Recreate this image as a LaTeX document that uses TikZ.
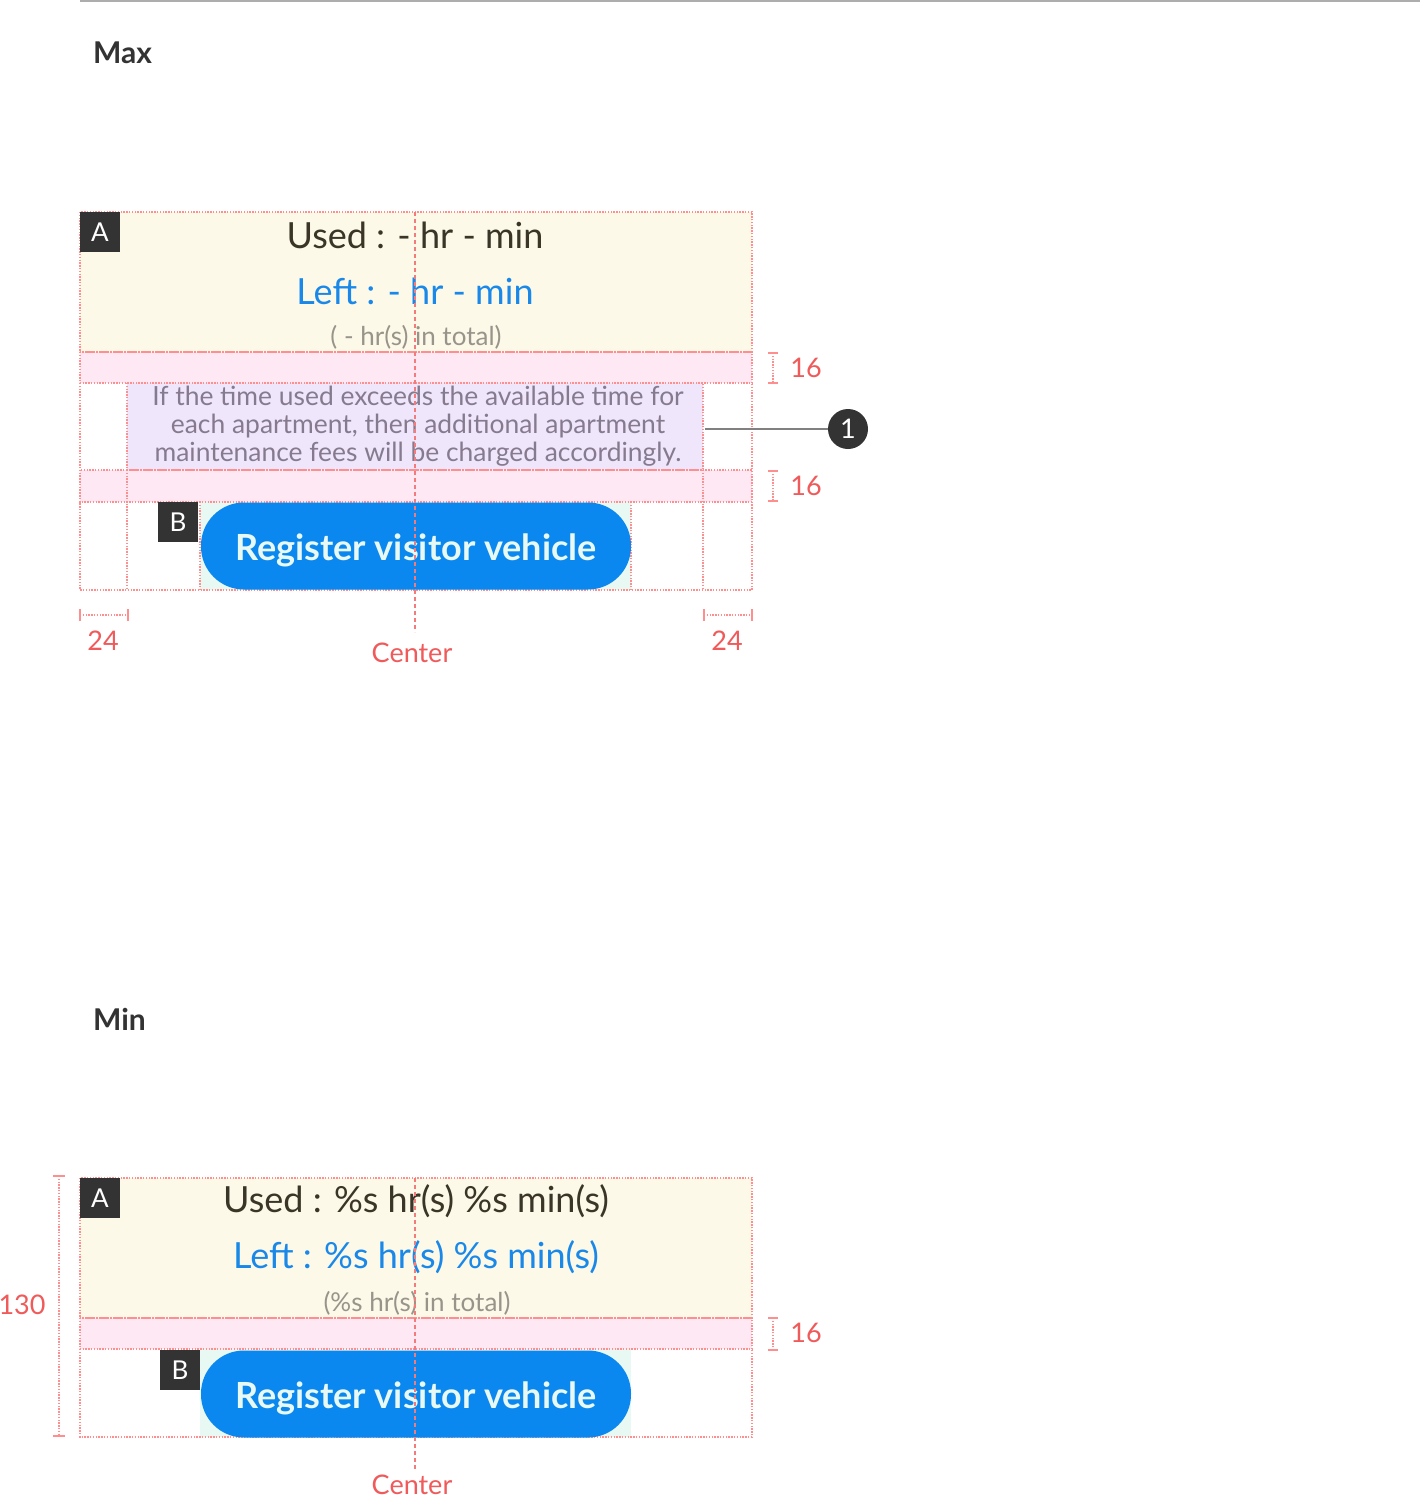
\documentclass[tikz,border=0pt]{standalone}
\usepackage{fontspec}
\setmainfont{Lato}
\definecolor{guidered}{HTML}{FF8F8F}
\definecolor{dimred}{HTML}{F05A5A}
\definecolor{cream}{HTML}{FCF9E9}
\definecolor{pinkband}{HTML}{FDE8F4}
\definecolor{lavender}{HTML}{F0E6FB}
\definecolor{mint}{HTML}{E8F8F2}
\definecolor{btnblue}{HTML}{0A88EF}
\definecolor{leftblue}{HTML}{1A88E8}
\definecolor{darktxt}{HTML}{3A3526}
\definecolor{graytxt}{HTML}{99948A}
\definecolor{paratxt}{HTML}{857A8E}
\definecolor{tagbg}{HTML}{333333}
\newcommand{\btnlabel}{\raisebox{-4pt}[\height][\depth]{Register visitor vehicle}}
\begin{document}
\begin{tikzpicture}[x=1pt,y=-1pt,
  guide/.style={draw=guidered,line width=1.3pt,dash pattern=on 1.4pt off 1.4pt},
  centerline/.style={draw=dimred!80,line width=1.2pt,dash pattern=on 4pt off 3pt},
  dim/.style={draw=guidered,line width=1.2pt},
  dimdot/.style={draw=guidered,line width=1.2pt,dash pattern=on 1.4pt off 1.4pt},
  tag/.style={fill=tagbg,text=white,minimum size=40pt,inner sep=0pt,font=\fontsize{26}{26}\selectfont},
  dimlabel/.style={text=dimred,font=\fontsize{27}{27}\selectfont,inner sep=0pt},
  usedtxt/.style={text=darktxt,font=\fontsize{36}{36}\selectfont,inner sep=0pt},
  lefttxt/.style={text=leftblue,font=\fontsize{36}{36}\selectfont,inner sep=0pt},
  totaltxt/.style={text=graytxt,font=\fontsize{26}{26}\selectfont,inner sep=0pt},
  button/.style={fill=btnblue,text=mint,rounded corners=43pt,minimum width=430pt,minimum height=87pt,inner sep=0pt,font=\fontsize{36}{36}\selectfont\bfseries},
  heading/.style={text=tagbg,font=\fontsize{30}{30}\selectfont\bfseries,inner sep=0pt,anchor=base west}
]
\useasboundingbox (0,0) rectangle (1420,1498);
\fill[white] (0,0) rectangle (1420,1498);
% top rule
\draw[draw=black!32,line width=2pt] (80,1) -- (1420,1);

% ================= MAX =================
\node[heading] (maxh) at (93,64) {Max};

\fill[cream] (80,212) rectangle (752,352);
\fill[pinkband] (80,352) rectangle (752,383);
\fill[lavender] (127,383) rectangle (703,470);
\fill[pinkband] (80,470) rectangle (752,502);
\fill[mint] (200,502) rectangle (631,590);

\draw[guide] (80,212) rectangle (752,352);
\draw[guide] (80,352) rectangle (752,383);
\draw[guide] (127,383) rectangle (703,470);
\draw[guide] (80,470) rectangle (752,502);
\draw[guide] (80,383) -- (80,590) -- (752,590) -- (752,383);
\draw[guide] (127,470) -- (127,590);
\draw[guide] (703,470) -- (703,590);
\draw[guide] (200,502) -- (200,590);
\draw[guide] (631,502) -- (631,590);

\node[usedtxt] (used1) at (415,235) {Used : - hr - min};
\node[lefttxt] (left1) at (415,291) {Left : - hr - min};
\node[totaltxt] (total1) at (416,337) {( - hr(s) in total)};
\node[text=paratxt,font=\fontsize{26.4}{28}\selectfont,align=center,inner sep=0pt] (para) at (418,426)
  {If the time used exceeds the available time for\\each apartment, then additional apartment\\maintenance fees will be charged accordingly.};

\node[button] (btn1) at (416,546) {\btnlabel};
\node[tag] (tagA1) at (100,232) {A};
\node[tag] (tagB1) at (178,522) {B};

\draw[centerline] (415,212) -- (415,632);
\node[dimlabel] (center1) at (412,653) {Center};

% widths 24
\draw[dimdot] (80,615) -- (128,615);
\draw[dim] (80,609) -- (80,621) (128,609) -- (128,621);
\node[dimlabel] (w24a) at (103,641) {24};
\draw[dimdot] (704,615) -- (752,615);
\draw[dim] (704,609) -- (704,621) (752,609) -- (752,621);
\node[dimlabel] (w24b) at (727,641) {24};

% heights 16
\draw[dimdot] (773,353) -- (773,383);
\draw[dim] (768,353) -- (778,353) (768,383) -- (778,383);
\node[dimlabel] (h16a) at (806,368) {16};
\draw[dimdot] (773,471) -- (773,501);
\draw[dim] (768,471) -- (778,471) (768,501) -- (778,501);
\node[dimlabel] (h16b) at (806,486) {16};

% callout
\coordinate (paraR) at (705,429);
\node[circle,fill=tagbg,text=white,minimum size=40pt,inner sep=0pt,font=\fontsize{27}{27}\selectfont] (c1) at (848,429) {1};
\draw[draw=black!50,line width=1.5pt] (paraR) -- (c1.west);

% ================= MIN =================
\node[heading] (minh) at (93,1030) {Min};

\fill[cream] (80,1178) rectangle (752,1318);
\fill[pinkband] (80,1318) rectangle (752,1349);
\fill[mint] (200,1349) rectangle (631,1437);

\draw[guide] (80,1178) rectangle (752,1318);
\draw[guide] (80,1318) rectangle (752,1349);
\draw[guide] (80,1349) -- (80,1437) -- (752,1437) -- (752,1349);

\node[usedtxt] (used2) at (416,1201) {Used : \%s hr(s) \%s min(s)};
\node[lefttxt] (left2) at (416,1257) {Left : \%s hr(s) \%s min(s)};
\node[totaltxt] (total2) at (417,1303) {(\%s hr(s) in total)};

\node[button] (btn2) at (416,1394) {\btnlabel};
\node[tag] (tagA2) at (100,1198) {A};
\node[tag] (tagB2) at (180,1370) {B};

\draw[centerline] (415,1178) -- (415,1470);
\node[dimlabel] (center2) at (412,1485) {Center};

% height 130
\draw[dimdot] (59,1176) -- (59,1436);
\draw[dim] (53,1176) -- (65,1176) (53,1436) -- (65,1436);
\node[dimlabel] (h130) at (22,1305) {130};

% height 16
\draw[dimdot] (773,1318) -- (773,1350);
\draw[dim] (768,1318) -- (778,1318) (768,1350) -- (778,1350);
\node[dimlabel] (h16c) at (806,1333) {16};
\end{tikzpicture}
\end{document}
